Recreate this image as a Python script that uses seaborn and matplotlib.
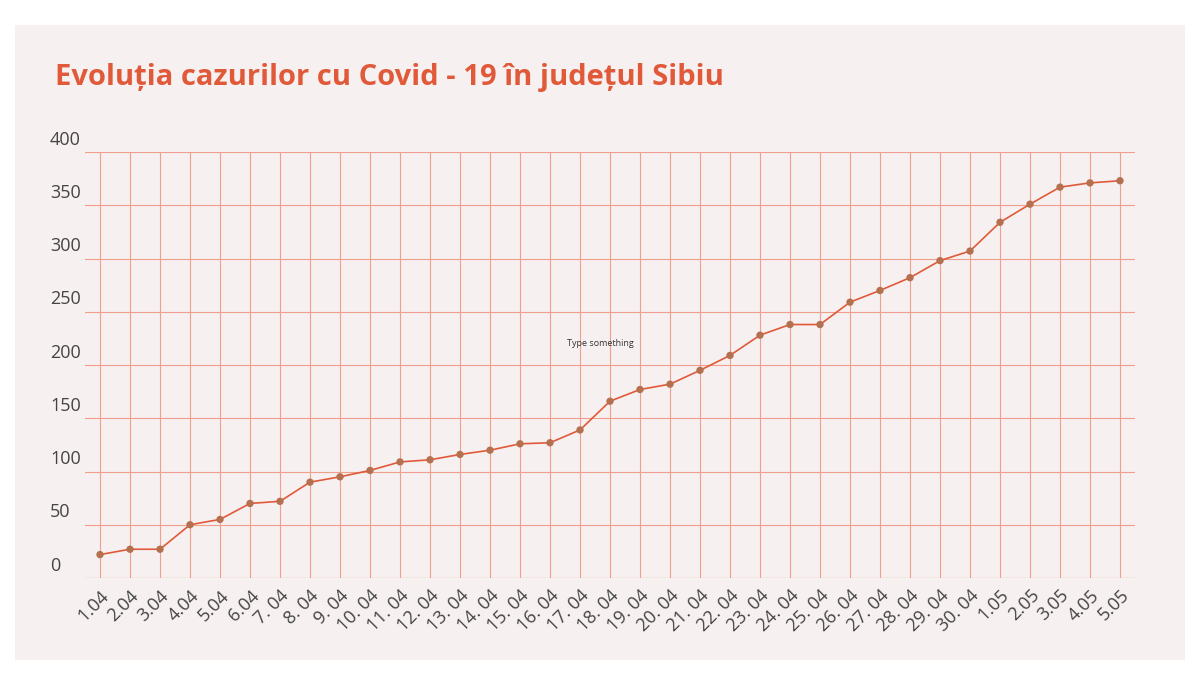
import matplotlib
matplotlib.use('Agg')
import matplotlib.pyplot as plt
import seaborn as sns
import pandas as pd
from matplotlib.patches import Rectangle

# Date si valori
dates = ['1.04', '2.04', '3.04', '4.04', '5.04', '6.04', '7. 04', '8. 04', '9. 04', '10. 04',
         '11. 04', '12. 04', '13. 04', '14. 04', '15. 04', '16. 04', '17. 04', '18. 04', '19. 04',
         '20. 04', '21. 04', '22. 04', '23. 04', '24. 04', '25. 04', '26. 04', '27. 04', '28. 04',
         '29. 04', '30. 04', '1.05', '2.05', '3.05', '4.05', '5.05']
cases = [22, 27, 27, 50, 55, 70, 72, 90, 95, 101, 109, 111, 116, 120, 126, 127, 139, 166, 177,
         182, 195, 209, 228, 238, 238, 259, 270, 282, 298, 307, 334, 351, 367, 371, 373]
y_ticks = [0, 50, 100, 150, 200, 250, 300, 350, 400]

df = pd.DataFrame({'x': range(len(dates)), 'cazuri': cases})

plt.rcParams['font.family'] = ['Open Sans', 'DejaVu Sans']
red = '#e05a3a'
fig = plt.figure(figsize=(12, 6.79), dpi=100)
fig.patch.set_facecolor('white')
fig.patches.append(Rectangle((15 / 1200, 1 - 660 / 679), 1170 / 1200, 635 / 679,
                             transform=fig.transFigure, facecolor='#f7f0f0', edgecolor='none', zorder=-5))

ax = fig.add_axes([85 / 1200, 1 - 578 / 679, 1050 / 1200, 426 / 679])
ax.set_zorder(2)
ax.set_facecolor('none')
sns.lineplot(data=df, x='x', y='cazuri', ax=ax, color=red, linewidth=1.2, zorder=3)
sns.scatterplot(data=df, x='x', y='cazuri', ax=ax, color='#b5704f', s=28, edgecolor='none', zorder=4)

ax.set_xlim(-0.5, len(dates) - 0.5)
ax.set_ylim(0, 400)
ax.set_xticks(range(len(dates)))
ax.set_xticklabels(dates, rotation=45, ha='right', rotation_mode='anchor', fontsize=13, color='#444444')
ax.set_yticks(y_ticks)
ax.set_yticklabels([])
ax.tick_params(length=0, pad=6)
ax.grid(True, color='#f0a08a', linewidth=0.8)
for s in ax.spines.values():
    s.set_visible(False)
ax.axhline(0, color='#f0a08a', linewidth=0.8)
ax.set_xlabel('')
ax.set_ylabel('')

for v in y_ticks:
    ax.text(50 / 1200, ax.transData.transform((0, v))[1] / fig.bbox.height + 0.005, str(v),
            transform=fig.transFigure, fontsize=13, color='#444444', ha='left', va='bottom')

fig.text(55 / 1200, 1 - 77 / 679, 'Evoluția cazurilor cu Covid - 19 în județul Sibiu',
         fontsize=21, fontweight='bold', color=red, va='center', ha='left')
fig.text(600 / 1200, 1 - 343 / 679, 'Type something', fontsize=6.5, color='#333333', ha='center', va='center')

fig.savefig('out.png', dpi=100, facecolor=fig.get_facecolor())
